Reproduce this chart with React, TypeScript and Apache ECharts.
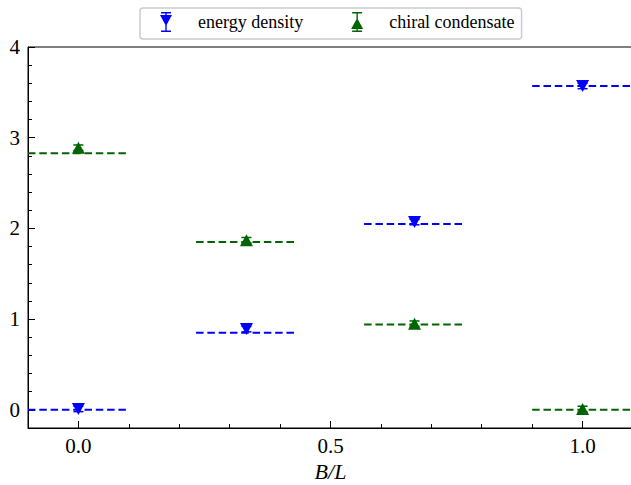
import React, { useEffect, useRef } from "react";
import * as echarts from "echarts";

// ---- data ----
const xPoints = [0, 1 / 3, 2 / 3, 1];
const energyValues = [0.01, 0.89, 2.07, 3.57];
const energyErrors = [0.03, 0.03, 0.03, 0.03];
const energyLevels = [0.0, 0.85, 2.05, 3.57];
const chiralValues = [2.89, 1.87, 0.95, 0.01];
const chiralErrors = [0.03, 0.03, 0.03, 0.03];
const chiralLevels = [2.83, 1.85, 0.94, 0.0];
const levelHalfWidth = 0.1;

const xMajorTicks = [0, 0.5, 1.0];
const xMinorTicks = [-0.1, 0.1, 0.2, 0.3, 0.4, 0.6, 0.7, 0.8, 0.9, 1.1];
const yMajorTicks = [0, 1, 2, 3, 4];
const yMinorTicks = [-0.2, 0.2, 0.4, 0.6, 0.8, 1.2, 1.4, 1.6, 1.8, 2.2, 2.4, 2.6, 2.8, 3.2, 3.4, 3.6, 3.8];

const seriesNames = ["energy density", "chiral condensate"];
const BLUE = "#0000ff";
const GREEN = "#006400";
const FONT = "'Liberation Serif', 'DejaVu Serif', serif";

const ICON_DOWN =
  "path://M1,0H11V1.5H1Z M5.3,0H6.7V20H5.3Z M1,18.5H11V20H1Z M0,3L12,3L6,14Z";
const ICON_UP =
  "path://M1,0H11V1.5H1Z M5.3,0H6.7V20H5.3Z M1,18.5H11V20H1Z M6,6L12,17L0,17Z";

function levelSeries(levels: number[], color: string) {
  return {
    type: "custom",
    xAxisIndex: 0,
    yAxisIndex: 0,
    silent: true,
    z: 1,
    data: xPoints.map((x, i) => [x, levels[i]]),
    renderItem: (params: any, api: any) => {
      const x = api.value(0);
      const y = api.value(1);
      const p1 = api.coord([x - levelHalfWidth, y]);
      const p2 = api.coord([x + levelHalfWidth, y]);
      return {
        type: "line",
        shape: { x1: p1[0], y1: p1[1], x2: p2[0], y2: p2[1] },
        style: { stroke: color, lineWidth: 2, lineDash: [7.5, 3.8] },
      };
    },
  };
}

function errorSeries(values: number[], errors: number[], color: string) {
  return {
    type: "custom",
    xAxisIndex: 0,
    yAxisIndex: 0,
    silent: true,
    z: 3,
    data: xPoints.map((x, i) => [x, values[i] - errors[i], values[i] + errors[i]]),
    renderItem: (params: any, api: any) => {
      const x = api.value(0);
      const lo = api.coord([x, api.value(1)]);
      const hi = api.coord([x, api.value(2)]);
      const hw = 5;
      const style = { stroke: color, lineWidth: 1.5 };
      return {
        type: "group",
        children: [
          { type: "line", shape: { x1: lo[0], y1: lo[1], x2: hi[0], y2: hi[1] }, style },
          { type: "line", shape: { x1: lo[0] - hw, y1: lo[1], x2: lo[0] + hw, y2: lo[1] }, style },
          { type: "line", shape: { x1: hi[0] - hw, y1: hi[1], x2: hi[0] + hw, y2: hi[1] }, style },
        ],
      };
    },
  };
}

export default function App() {
  const ref = useRef<HTMLDivElement>(null);
  useEffect(() => {
    if (!ref.current) return;
    const chart = echarts.init(ref.current, undefined, { renderer: "svg" });
    const axisLine = { show: true, onZero: false, lineStyle: { color: "#000", width: 1 } };
    chart.setOption({
      animation: false,
      backgroundColor: "#fff",
      textStyle: { fontFamily: FONT },
      legend: {
        left: 140,
        top: 8,
        padding: [4, 7, 7, 20],
        itemWidth: 12,
        itemHeight: 20,
        itemGap: 48,
        borderColor: "#cccccc",
        borderWidth: 1.5,
        borderRadius: 3,
        textStyle: { fontFamily: FONT, fontSize: 18, color: "#000", padding: [0, 0, 0, 21] },
        data: [
          { name: seriesNames[0], icon: ICON_DOWN },
          { name: seriesNames[1], icon: ICON_UP },
        ],
      },
      grid: {
        left: 28,
        top: 47,
        width: 605,
        height: 381,
        show: true,
        borderColor: "#000",
        borderWidth: 1,
        containLabel: false,
        outerBoundsMode: "none",
      },
      xAxis: [
        {
          type: "value",
          min: -0.1,
          max: 1.1,
          position: "bottom",
          axisLine,
          splitLine: { show: false },
          axisTick: { show: true, inside: true, length: 7, customValues: xMajorTicks, lineStyle: { color: "#000" } },
          axisLabel: {
            show: true,
            customValues: xMajorTicks,
            formatter: (v: number) => v.toFixed(1),
            fontFamily: FONT,
            fontSize: 21,
            color: "#000",
            margin: 7,
          },
          name: "B/L",
          nameLocation: "middle",
          nameGap: 25,
          nameTextStyle: { fontFamily: FONT, fontSize: 22, fontStyle: "italic", color: "#000" },
        },
        {
          type: "value",
          min: -0.1,
          max: 1.1,
          position: "bottom",
          axisLine: { show: false, onZero: false },
          splitLine: { show: false },
          axisTick: { show: true, inside: true, length: 4, customValues: xMinorTicks, lineStyle: { color: "#000" } },
          axisLabel: { show: false },
        },
      ],
      yAxis: [
        {
          type: "value",
          min: -0.2,
          max: 4,
          position: "left",
          axisLine,
          splitLine: { show: false },
          axisTick: { show: true, inside: true, length: 7, customValues: yMajorTicks, lineStyle: { color: "#000" } },
          axisLabel: {
            show: true,
            customValues: yMajorTicks,
            formatter: (v: number) => String(v),
            fontFamily: FONT,
            fontSize: 21,
            color: "#000",
            margin: 8,
          },
        },
        {
          type: "value",
          min: -0.2,
          max: 4,
          position: "left",
          axisLine: { show: false, onZero: false },
          splitLine: { show: false },
          axisTick: { show: true, inside: true, length: 4, customValues: yMinorTicks, lineStyle: { color: "#000" } },
          axisLabel: { show: false },
        },
      ],
      series: [
        levelSeries(energyLevels, BLUE),
        levelSeries(chiralLevels, GREEN),
        errorSeries(energyValues, energyErrors, BLUE),
        errorSeries(chiralValues, chiralErrors, GREEN),
        {
          name: seriesNames[0],
          type: "scatter",
          xAxisIndex: 0,
          yAxisIndex: 0,
          z: 4,
          symbol: "triangle",
          symbolRotate: 180,
          symbolSize: [13, 12],
          itemStyle: { color: BLUE, opacity: 1 },
          data: xPoints.map((x, i) => [x, energyValues[i]]),
        },
        {
          name: seriesNames[1],
          type: "scatter",
          xAxisIndex: 0,
          yAxisIndex: 0,
          z: 4,
          symbol: "triangle",
          symbolSize: [13, 12],
          itemStyle: { color: GREEN, opacity: 1 },
          data: xPoints.map((x, i) => [x, chiralValues[i]]),
        },
      ],
    });
    return () => chart.dispose();
  }, []);
  return <div ref={ref} style={{ width: 631, height: 485, position: "fixed", left: 0, top: 0 }} />;
}
